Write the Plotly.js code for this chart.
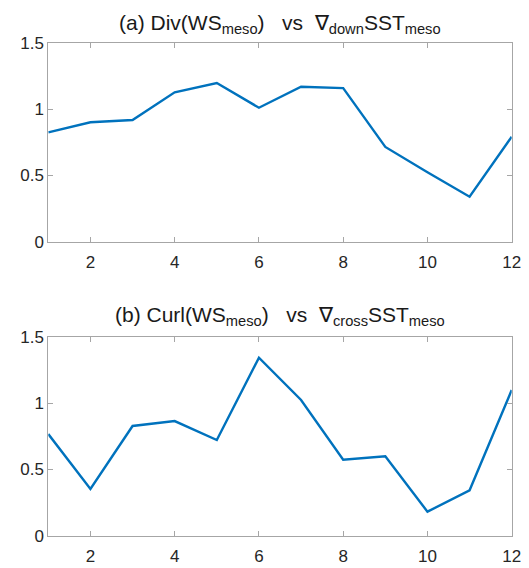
<!DOCTYPE html>
<html>
<head>
<meta charset="utf-8">
<script src="https://cdn.plot.ly/plotly-3.0.1.min.js"></script>
<style>html,body{margin:0;padding:0;background:#fff;}#chart{width:529px;height:568px;}</style>
</head>
<body>
<div id="chart"></div>
<script>
const months = [1,2,3,4,5,6,7,8,9,10,11,12];
const divValues = [0.824,0.900,0.917,1.126,1.196,1.010,1.168,1.158,0.714,0.523,0.339,0.791];
const curlValues = [0.766,0.352,0.827,0.864,0.721,1.342,1.023,0.573,0.598,0.181,0.342,1.098];
const xTicks = [2,4,6,8,10,12];
const yTicks = [0,0.5,1,1.5];
const yTickText = ['0','0.5','1','1.5'];
const NB = '\u00A0';
const titleA = '(a) Div(WS<sub>meso</sub>)' + NB+NB+NB + 'vs' + NB+NB + '∇<sub>down</sub>SST<sub>meso</sub>';
const titleB = '(b) Curl(WS<sub>meso</sub>)' + NB+NB+NB + 'vs' + NB+NB + '∇<sub>cross</sub>SST<sub>meso</sub>';

const lineColor = '#0072BD';
const font = {family:'Liberation Sans, Arial, sans-serif', size:17, color:'#262626'};

const xaxisBase = {
  range:[1,12], tickvals:xTicks, ticks:'inside', ticklen:5, tickcolor:'#a6a6a6',
  showline:true, linecolor:'#a6a6a6', linewidth:1, mirror:'ticks', showgrid:false, zeroline:false,
  tickfont:font, domain:[0.0913,0.9673], ticklabelstandoff:5
};
const yaxisBase = {
  range:[0,1.5], tickvals:yTicks, ticktext:yTickText, ticks:'inside', ticklen:5, tickcolor:'#a6a6a6',
  showline:true, linecolor:'#a6a6a6', linewidth:1, mirror:'ticks', showgrid:false, zeroline:false,
  tickfont:font
};

const data = [
  {x:months, y:divValues, type:'scatter', mode:'lines', line:{color:lineColor, width:2.4}, xaxis:'x', yaxis:'y', hoverinfo:'skip'},
  {x:months, y:curlValues, type:'scatter', mode:'lines', line:{color:lineColor, width:2.4}, xaxis:'x2', yaxis:'y2', hoverinfo:'skip'}
];

const titleFont = {family:font.family, size:21, color:'#1a1a1a'};
const layout = {
  width:529, height:568, margin:{l:0,r:0,t:0,b:0},
  paper_bgcolor:'#fff', plot_bgcolor:'#fff', showlegend:false,
  font:font,
  xaxis:Object.assign({}, xaxisBase, {anchor:'y'}),
  yaxis:Object.assign({}, yaxisBase, {domain:[0.5745,0.9248], anchor:'x'}),
  xaxis2:Object.assign({}, xaxisBase, {anchor:'y2'}),
  yaxis2:Object.assign({}, yaxisBase, {domain:[0.0569,0.4072], anchor:'x2'}),
  annotations:[
    {text:titleA, xref:'paper', yref:'paper', x:0.529, y:1-39/568, xanchor:'center', yanchor:'bottom', showarrow:false, font:titleFont},
    {text:titleB, xref:'paper', yref:'paper', x:0.529, y:1-331/568, xanchor:'center', yanchor:'bottom', showarrow:false, font:titleFont}
  ]
};

Plotly.newPlot('chart', data, layout, {staticPlot:true, displayModeBar:false});
</script>
</body>
</html>
